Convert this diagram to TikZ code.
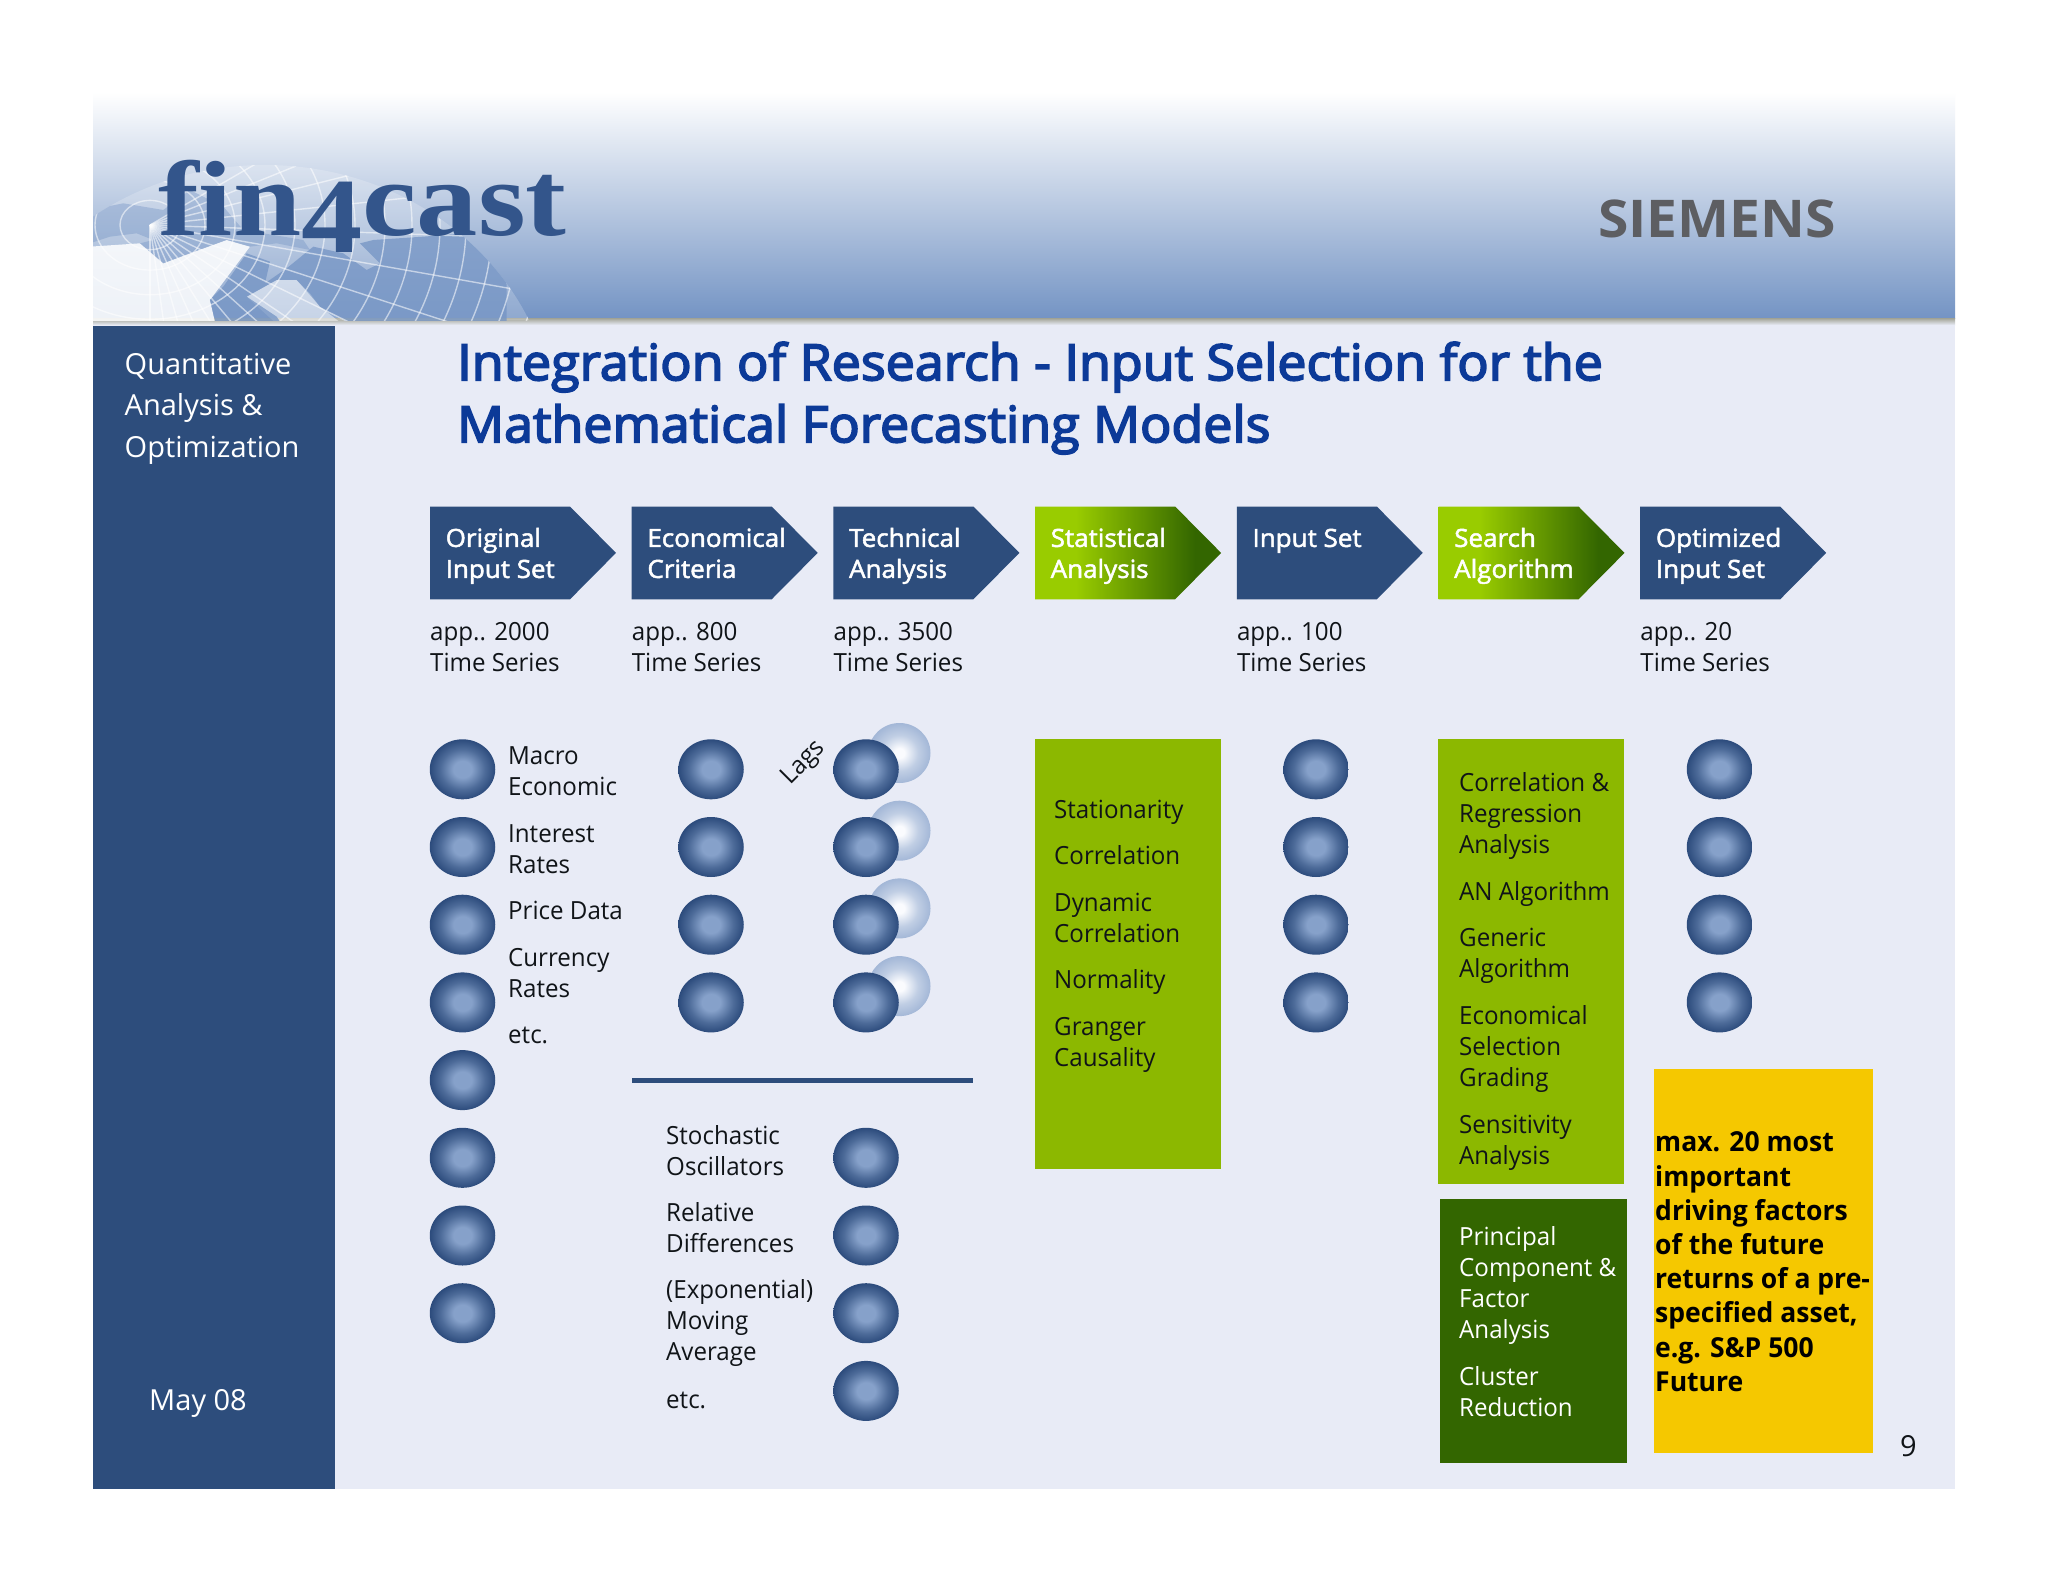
\documentclass[tikz,border=0pt]{standalone}
\usepackage{fontspec}
\usetikzlibrary{shapes.geometric}
\setmainfont[FakeStretch=0.965]{Open Sans}
\newfontfamily\plainfont{Open Sans}
\newfontfamily\semifont[FakeBold=2,FakeStretch=1.04]{Open Sans}
\newfontfamily\titlefont[FakeBold=3.5,FakeStretch=1.04]{Open Sans}
\newfontfamily\logofont{Liberation Serif}
\definecolor{navy}{HTML}{2D4D7C}
\definecolor{slide}{HTML}{E8EBF6}
\definecolor{headblue}{HTML}{7494C4}
\definecolor{titleblue}{HTML}{0C3A98}
\definecolor{logoblue}{HTML}{33558B}
\definecolor{ink}{HTML}{101418}
\definecolor{boxgreen}{HTML}{8CB800}
\definecolor{deepgreen}{HTML}{336600}
\definecolor{brightgreen}{HTML}{99CC00}
\definecolor{boxyellow}{HTML}{F5C800}
\definecolor{shadowgrey}{HTML}{A0A294}
\definecolor{ballin}{HTML}{86A1CA}
\definecolor{ballmid}{HTML}{4D6B99}
\definecolor{ballout}{HTML}{2C4B7C}
\definecolor{lightin}{HTML}{FAFBFE}
\definecolor{lightmid}{HTML}{C0CEE4}
\definecolor{lightout}{HTML}{A3B7D7}
\pgfdeclareradialshading{darkball}{\pgfpointorigin}{color(0bp)=(ballin);color(7bp)=(ballin);color(17bp)=(ballmid);color(25bp)=(ballout);color(50bp)=(ballout)}
\pgfdeclareradialshading{lightball}{\pgfpointorigin}{color(0bp)=(lightin);color(4bp)=(lightin);color(15bp)=(lightmid);color(25bp)=(lightout);color(50bp)=(lightout)}
\pgfdeclarehorizontalshading{greenarrow}{100bp}{color(0bp)=(brightgreen);color(36bp)=(brightgreen);color(68bp)=(deepgreen);color(100bp)=(deepgreen)}
\newcommand\bodyfont{\fontsize{25}{31}\selectfont}
\tikzset{
  body/.style={anchor=north west,inner sep=0pt,align=left,yshift=20.5pt,font=\bodyfont,text=ink},
  lightbody/.style={body,text=white},
  head/.style={body,yshift=1.2pt,text=white,font=\semifont\bodyfont},
  count/.style={body,yshift=1.2pt},
  sidetext/.style={anchor=north west,inner sep=0pt,align=left,yshift=28.2pt,text=white,font=\plainfont\fontsize{29}{41.7}\selectfont},
  ball/.style={ellipse,inner sep=0pt,minimum width=65.5pt,minimum height=60pt,shade,shading=darkball},
  lagball/.style={ellipse,inner sep=0pt,minimum width=62pt,minimum height=60pt,shade,shading=lightball},
  arrowblue/.style={fill=navy},
  arrowgreen/.style={shade,shading=greenarrow},
  gridline/.style={white,opacity=.55,line width=1.4pt},
}
\newcommand\arrowpath[1]{(#1,506.5) -- (#1+140,506.5) -- (#1+186,552.9) -- (#1+140,599.3) -- (#1,599.3) -- cycle}
\begin{document}
\begin{tikzpicture}[x=1pt,y=-1pt]
\useasboundingbox (0,0) rectangle (2048,1582);
\fill[white] (0,0) rectangle (2048,1582);
\fill[slide] (93,318) rectangle (1955,1489);
% header band
\shade[top color=white,bottom color=headblue] (93,92) rectangle (1955,318);
\shade[top color=shadowgrey,bottom color=slide] (93,318) rectangle (1955,325);
% globe
\begin{scope}
  \clip (93,92) rectangle (1955,320);
  \clip (265,430) ellipse [x radius=290,y radius=265];
  \fill[white,opacity=.2] (-100,92) rectangle (600,320);
  \begin{scope}[shift={(90,130)},x=.3333pt,y=-.3333pt]
    \fill[white,opacity=.85] (0,350) -- (150,340) -- (220,400) -- (300,370) -- (410,330) -- (480,350) -- (360,510) -- (380,600) -- (0,600) -- cycle;
    \fill[white,opacity=.5] (560,450) -- (620,450) -- (690,530) -- (780,600) -- (580,600) -- (470,500) -- cycle;
    \fill[headblue,opacity=.75] (360,510) -- (400,470) -- (470,370) -- (540,395) -- (525,460) -- (590,415) -- (670,350) -- (760,370) -- (830,420) -- (870,400) -- (810,340) -- (850,330) -- (1000,320) -- (1250,300) -- (1250,590) -- (780,580) -- (690,530) -- (660,490) -- (620,450) -- (560,450) -- (470,500) -- (560,560) -- (580,590) -- (380,590) -- cycle;
    \fill[headblue,opacity=.4] (0,240) -- (100,220) -- (220,240) -- (300,180) -- (400,230) -- (460,300) -- (640,330) -- (660,360) -- (560,340) -- (480,350) -- (410,330) -- (300,370) -- (220,400) -- (150,340) -- (190,330) -- (140,310) -- (60,320) -- (0,340) -- cycle;
  \end{scope}
  \foreach \r in {30,55,85,115,145,175,205,235,262,290,316,342,368,394}
    \draw[gridline] (150,225) ellipse [x radius=\r,y radius=.82*\r];
  \foreach \a in {-30,-22,-14,-6,2,10,18,26,34,42,50,58,66,74,82,90}
    \draw[gridline] (150,225) -- ++(\a:430);
\end{scope}
\node (logo) [anchor=base west,inner sep=0pt,text=logoblue,font=\logofont\bfseries\fontsize{107}{107}\selectfont] at (158,235) {\scalebox{1.145}[1]{fin\raisebox{-17pt}{4}cast}};
\node (siemens) [anchor=base west,inner sep=0pt,text=black!60!slide,font=\bfseries\fontsize{52}{52}\selectfont] at (1598,237) {\scalebox{1.10}[1]{SIEMENS}};
% sidebar
\fill[navy] (93,326) rectangle (335,1489);
\node (sidebar) [sidetext] at (124.5,373) {\strut Quantitative\\Analysis \&\\Optimization};
\node (date) [sidetext] at (149,1409) {\strut May 08};
\node (page) [sidetext,text=ink] at (1900,1455) {\strut 9};
% title
\node (title) [anchor=north west,inner sep=0pt,align=left,yshift=43.4pt,text=titleblue,font=\titlefont\fontsize{50}{62}\selectfont] at (457,380) {\strut Integration of Research - Input Selection for the\\Mathematical Forecasting Models};
% process arrows
\fill[arrowblue] \arrowpath{430};
\fill[arrowblue] \arrowpath{631.7};
\fill[arrowblue] \arrowpath{833.4};
\path[arrowgreen] \arrowpath{1035.1};
\fill[arrowblue] \arrowpath{1236.8};
\path[arrowgreen] \arrowpath{1438.5};
\fill[arrowblue] \arrowpath{1640.2};
\node (h1) [head] at (445.5,546.7) {\strut Original\\Input Set};
\node (h2) [head] at (647.2,546.7) {\strut Economical\\Criteria};
\node (h3) [head] at (848.9,546.7) {\strut Technical\\Analysis};
\node (h4) [head] at (1050.5,546.7) {\strut Statistical\\Analysis};
\node (h5) [head] at (1252.3,546.7) {\strut Input Set};
\node (h6) [head] at (1454,546.7) {\strut Search\\Algorithm};
\node (h7) [head] at (1655.7,546.7) {\strut Optimized\\Input Set};
\node (c1) [count] at (430,640) {\strut app.. 2000\\Time Series};
\node (c2) [count] at (631.7,640) {\strut app.. 800\\Time Series};
\node (c3) [count] at (833.4,640) {\strut app.. 3500\\Time Series};
\node (c5) [count] at (1236.8,640) {\strut app.. 100\\Time Series};
\node (c7) [count] at (1640.2,640) {\strut app.. 20\\Time Series};
% balls
\foreach \i in {0,...,7}
  \node (a\i) [ball] at (462.5,769.3+77.7*\i) {};
\foreach \i in {0,...,3} {
  \node (b\i) [ball] at (711,769.3+77.7*\i) {};
  \node (l\i) [lagball] at (899.5,753+77.7*\i) {};
  \node (d\i) [ball] at (866,769.3+77.7*\i) {};
  \node (e\i) [ball] at (1316,769.3+77.7*\i) {};
  \node (f\i) [ball] at (1719.5,769.3+77.7*\i) {};
}
\foreach \i in {5,...,8}
  \node (g\i) [ball] at (866,769.3+77.7*\i) {};
\node (lags) [font=\bodyfont,text=ink,inner sep=0pt,rotate=45] at (804,763) {Lags};
% labels column 1
\node (t1) [body] at (508,763.5) {\strut Macro\\Economic};
\node (t2) [body] at (508,841) {\strut Interest\\Rates};
\node (t3) [body] at (508,918) {\strut Price Data};
\node (t4) [body] at (508,965) {\strut Currency\\Rates};
\node (t5) [body] at (508,1042) {\strut etc.};
% divider
\coordinate (ruleL) at (632,1080.5);
\coordinate (ruleR) at (973,1080.5);
\draw[navy,line width=5.5pt] (ruleL) -- (ruleR);
\node (u1) [body] at (666,1143) {\strut Stochastic\\Oscillators};
\node (u2) [body] at (666,1220) {\strut Relative\\Differences};
\node (u3) [body] at (666,1297) {\strut (Exponential)\\Moving\\Average};
\node (u4) [body] at (666,1407) {\strut etc.};
% statistical box
\fill[boxgreen] (1035,739) rectangle (1221,1169);
\node (s1) [body] at (1054,817.5) {\strut Stationarity};
\node (s2) [body] at (1054,863.5) {\strut Correlation};
\node (s3) [body] at (1054,910) {\strut Dynamic\\Correlation};
\node (s4) [body] at (1054,987.5) {\strut Normality};
\node (s5) [body] at (1054,1034.5) {\strut Granger\\Causality};
% search box
\fill[boxgreen] (1438,739) rectangle (1624,1184);
\node (r1) [body] at (1459,790) {\strut Correlation \&\\Regression\\Analysis};
\node (r2) [body] at (1459,898.6) {\strut AN Algorithm};
\node (r3) [body] at (1459,945.5) {\strut Generic\\Algorithm};
\node (r4) [body] at (1459,1022.6) {\strut Economical\\Selection\\Grading};
\node (r5) [body] at (1459,1132) {\strut Sensitivity\\Analysis};
% dark box
\fill[deepgreen] (1440,1198.7) rectangle (1626.5,1462.7);
\node (p1) [lightbody] at (1459,1244.5) {\strut Principal\\Component \&\\Factor\\Analysis};
\node (p2) [lightbody] at (1459,1384) {\strut Cluster\\Reduction};
% yellow box
\fill[boxyellow] (1654,1069) rectangle (1873,1453);
\node (y1) [anchor=north west,inner sep=0pt,align=left,yshift=23.94pt,text=black,font=\bfseries\fontsize{27.5}{34.2}\selectfont] at (1655,1151.7) {\strut max. 20 most\\important\\driving factors\\of the future\\returns of a pre-\\specified asset,\\e.g. S\&P 500\\Future};
\end{tikzpicture}
\end{document}
